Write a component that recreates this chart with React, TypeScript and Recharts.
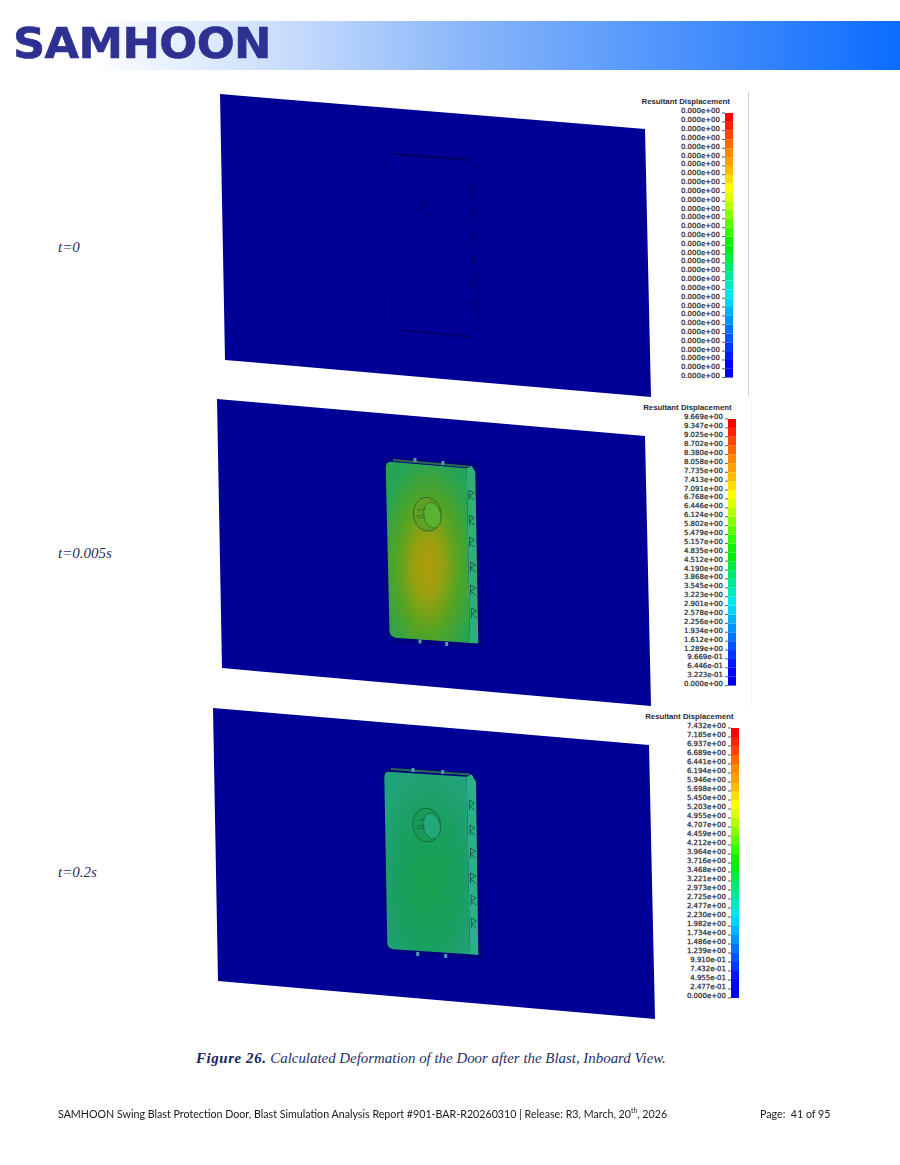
import React from 'react';
import { BarChart, Bar, XAxis, YAxis, ScatterChart, Scatter } from 'recharts';

type Pt = { x: number; y: number };

// Contour legend labels, top to bottom
const labelsStart = Array(31).fill('0.000e+00');
const labelsMid = [
  '9.669e+00', '9.347e+00', '9.025e+00', '8.702e+00', '8.380e+00', '8.058e+00', '7.735e+00', '7.413e+00',
  '7.091e+00', '6.768e+00', '6.446e+00', '6.124e+00', '5.802e+00', '5.479e+00', '5.157e+00', '4.835e+00',
  '4.512e+00', '4.190e+00', '3.868e+00', '3.545e+00', '3.223e+00', '2.901e+00', '2.578e+00', '2.256e+00',
  '1.934e+00', '1.612e+00', '1.289e+00', '9.669e-01', '6.446e-01', '3.223e-01', '0.000e+00',
];
const labelsEnd = [
  '7.432e+00', '7.185e+00', '6.937e+00', '6.689e+00', '6.441e+00', '6.194e+00', '5.946e+00', '5.698e+00',
  '5.450e+00', '5.203e+00', '4.955e+00', '4.707e+00', '4.459e+00', '4.212e+00', '3.964e+00', '3.716e+00',
  '3.468e+00', '3.221e+00', '2.973e+00', '2.725e+00', '2.477e+00', '2.230e+00', '1.982e+00', '1.734e+00',
  '1.486e+00', '1.239e+00', '9.910e-01', '7.432e-01', '4.955e-01', '2.477e-01', '0.000e+00',
];

// Band colours of the contour scale, top to bottom
const bandColors = [
  '#ff0000', '#ff2200', '#ff4400', '#ff6600', '#ff8800', '#ffa000', '#ffbb00', '#ffdd00', '#ffff00', '#ddff00',
  '#b4ff00', '#88ff00', '#5cff00', '#30ff00', '#10f000', '#00ee10', '#00ec40', '#00ea70', '#00ea98', '#00eac0',
  '#00e8e8', '#00d4ff', '#00b4ff', '#0094ff', '#0074ff', '#0054ff', '#0034ff', '#0018ff', '#0000ff', '#0000f0',
];

// Plates, in page pixels
const plateStart: Pt[] = [{ x: 220, y: 94 }, { x: 645, y: 129 }, { x: 651, y: 397 }, { x: 225, y: 360 }];
const plateMid: Pt[] = [{ x: 217, y: 399 }, { x: 645, y: 436 }, { x: 651, y: 706 }, { x: 222, y: 668 }];
const plateEnd: Pt[] = [{ x: 213, y: 708 }, { x: 649, y: 745 }, { x: 655, y: 1019 }, { x: 218, y: 981 }];

// Door outline traces at t=0
const traceTop: Pt[] = [{ x: 393, y: 154 }, { x: 470, y: 160 }];
const traceBottom: Pt[] = [{ x: 398, y: 330 }, { x: 473, y: 337 }];
const traceLeft: Pt[] = [{ x: 386, y: 160 }, { x: 392, y: 327 }];
const traceRight: Pt[] = [{ x: 473, y: 165 }, { x: 478, y: 334 }];
const traceWindowA: Pt[] = [{ x: 416, y: 204 }, { x: 428, y: 200 }];
const traceWindowB: Pt[] = [{ x: 417, y: 209 }, { x: 430, y: 206 }];
const traceWindowC: Pt[] = [{ x: 427, y: 192 }, { x: 424, y: 212 }, { x: 436, y: 219 }];
const hingesStart: Pt[] = [{ x: 473, y: 190 }, { x: 474, y: 213 }, { x: 474, y: 237 }, { x: 475, y: 260 }, { x: 475, y: 283 }, { x: 476, y: 305 }];

// Door shadows, faces and side strips
const shadowMid: Pt[] = [{ x: 384, y: 463 }, { x: 391, y: 458 }, { x: 472, y: 463 }, { x: 478, y: 470 }, { x: 481, y: 646 }, { x: 393, y: 642 }, { x: 387, y: 634 }];
const faceMid: Pt[] = [
  { x: 385.7, y: 466 }, { x: 387, y: 463 }, { x: 390, y: 461.7 }, { x: 466.7, y: 468.3 }, { x: 470, y: 643 },
  { x: 395, y: 637.7 }, { x: 391, y: 635.5 }, { x: 389.5, y: 632 },
];
const stripMid: Pt[] = [{ x: 466.7, y: 468.3 }, { x: 471.7, y: 465.7 }, { x: 475.3, y: 471.7 }, { x: 478.3, y: 643.3 }, { x: 470, y: 643 }];
const frameMid: Pt[] = [{ x: 393, y: 460 }, { x: 470, y: 466.7 }];
const nubsMid: Pt[] = [{ x: 415, y: 460 }, { x: 443, y: 463 }, { x: 420, y: 641.5 }, { x: 446.7, y: 644 }];
const hingesMid: Pt[] = [{ x: 471.5, y: 495 }, { x: 472, y: 520 }, { x: 472, y: 542 }, { x: 473, y: 567 }, { x: 473, y: 590 }, { x: 474, y: 613 }];
const windowMid: Pt[] = [{ x: 427.3, y: 514.3 }];

const shadowEnd: Pt[] = [{ x: 382, y: 774 }, { x: 389, y: 768 }, { x: 472, y: 772 }, { x: 478, y: 780 }, { x: 481, y: 958 }, { x: 392, y: 952 }, { x: 385, y: 946 }];
const faceEnd: Pt[] = [
  { x: 384.3, y: 776 }, { x: 385.5, y: 773 }, { x: 388, y: 771.7 }, { x: 466.7, y: 776.7 }, { x: 470, y: 954.3 },
  { x: 393, y: 949.3 }, { x: 389, y: 947.5 }, { x: 387.3, y: 944 },
];
const stripEnd: Pt[] = [{ x: 466.7, y: 776.7 }, { x: 471.7, y: 774.3 }, { x: 476, y: 781.7 }, { x: 478.3, y: 955 }, { x: 470, y: 954.3 }];
const frameEnd: Pt[] = [{ x: 391, y: 769 }, { x: 470, y: 774.5 }];
const nubsEnd: Pt[] = [{ x: 413, y: 770 }, { x: 442.7, y: 772 }, { x: 417.7, y: 954 }, { x: 445.7, y: 956 }];
const hingesEnd: Pt[] = [{ x: 472, y: 805 }, { x: 472.5, y: 830 }, { x: 473, y: 853 }, { x: 473, y: 878 }, { x: 473.5, y: 900 }, { x: 474, y: 923 }];
const windowEnd: Pt[] = [{ x: 426.7, y: 825 }];

const bandKeys = bandColors.map((_, i) => `b${i}`);
const legendRow = [Object.fromEntries([['name', 'scale'], ...bandKeys.map((k) => [k, 1])])];

const PLATE = '#000096';
const serif = '"Liberation Serif", serif';
const navy = '#1f3064';

const Nothing = () => <g />;

const HingeMark = ({ cx, cy, color, opacity }: any) => (
  <path
    d={`M${cx - 2.5},${cy - 5} L${cx + 2.5},${cy - 2} L${cx - 2.5},${cy + 1} L${cx + 2.5},${cy + 5} M${cx - 2.5},${cy - 5} L${cx - 2.5},${cy + 5}`}
    fill="none"
    stroke={color}
    strokeWidth={1}
    opacity={opacity}
  />
);

const NubMark = ({ cx, cy, color }: any) => <rect x={cx - 1.5} y={cy - 2} width={3} height={4} fill={color} />;

const WindowMark = ({ cx, cy, ring, lit, line }: any) => (
  <g>
    <ellipse cx={cx} cy={cy} rx={14} ry={17} fill={ring} stroke={line} strokeWidth={0.8} transform={`rotate(-8 ${cx} ${cy})`} />
    <ellipse cx={cx + 5} cy={cy + 1} rx={8.5} ry={13} fill={lit} stroke={line} strokeWidth={0.6} transform={`rotate(-12 ${cx + 5} ${cy + 1})`} />
    <path d={`M${cx - 10},${cy - 4} L${cx - 1},${cy - 6} M${cx - 11},${cy + 2} L${cx - 2},${cy} M${cx - 10},${cy + 4} L${cx - 2},${cy + 3}`} stroke={line} strokeWidth={0.7} fill="none" />
  </g>
);

const ScaleLegend = ({ labels, barLeft, barTop, barHeight, titleLeft, titleTop }: any) => {
  const axisWidth = 90;
  const barWidth = 7.5;
  const pad = 8;
  return (
    <>
      <div
        style={{
          position: 'absolute', left: titleLeft, top: titleTop, fontFamily: '"Liberation Sans", sans-serif', fontWeight: 700,
          fontSize: 7.8, lineHeight: '10px', color: '#2a2a33', whiteSpace: 'nowrap',
        }}
      >
        Resultant Displacement
      </div>
      <div style={{ position: 'absolute', left: barLeft - axisWidth, top: barTop - pad }}>
        <BarChart
          width={axisWidth + barWidth}
          height={barHeight + pad * 2}
          data={legendRow}
          margin={{ top: pad, right: 0, bottom: pad, left: 0 }}
          barCategoryGap={0}
        >
          <XAxis dataKey="name" hide />
          <YAxis
            type="number"
            domain={[0, 30]}
            ticks={labels.map((_: string, i: number) => i)}
            interval={0}
            width={axisWidth}
            tickSize={3}
            tickMargin={2}
            axisLine={false}
            tickLine={{ stroke: '#333', strokeWidth: 0.8 }}
            tick={{ fontFamily: '"DejaVu Sans", sans-serif', fontSize: 7, fill: '#2c2c34', stroke: '#2c2c34', strokeWidth: 0.25, dy: -2 }}
            tickFormatter={(v: number) => labels[30 - v]}
          />
          {bandKeys.map((k, i) => (
            <Bar key={k} dataKey={k} stackId="scale" fill={bandColors[29 - i]} isAnimationActive={false} />
          ))}
        </BarChart>
      </div>
    </>
  );
};

const poly = (key: string, data: Pt[], fill: string, stroke = 'none', strokeWidth = 0, opacity = 1) => (
  <Scatter
    key={key}
    data={data}
    shape={Nothing}
    line={{ fill, stroke, strokeWidth, opacity }}
    isAnimationActive={false}
  />
);

const trace = (key: string, data: Pt[], stroke: string, strokeWidth: number, opacity = 1) => (
  <Scatter key={key} data={data} shape={Nothing} line={{ fill: 'none', stroke, strokeWidth, opacity }} isAnimationActive={false} />
);

const marks = (key: string, data: Pt[], shape: any) => (
  <Scatter key={key} data={data} shape={shape} isAnimationActive={false} />
);

const textAt = (left: number, top: number, style: React.CSSProperties, children: React.ReactNode) => (
  <div style={{ position: 'absolute', left, top, whiteSpace: 'nowrap', ...style }}>{children}</div>
);

const timeStyle: React.CSSProperties = { fontFamily: serif, fontStyle: 'italic', fontSize: 15, lineHeight: '18px', color: navy };
const footerStyle: React.CSSProperties = {
  fontFamily: 'Lato, sans-serif', fontSize: 11, lineHeight: '16px', color: '#1a1a1a', transform: 'scaleX(0.97)', transformOrigin: 'left top',
};

export default function App() {
  return (
    <div style={{ position: 'absolute', left: 0, top: 0, width: 900, height: 1165, background: '#fff', overflow: 'hidden' }}>
      {/* Header band and logo */}
      <div
        style={{
          position: 'absolute', left: 0, top: 21, width: 900, height: 49,
          background: 'linear-gradient(90deg, #ffffff 0px, #ffffff 90px, #c4dafc 300px, #8fb9f9 450px, #0b6cfe 900px)',
        }}
      />
      {textAt(13, 19, {
        fontFamily: '"DejaVu Sans", sans-serif', fontWeight: 700, fontSize: 43, lineHeight: '49px', color: '#2e3192',
        transform: 'scaleX(1.04)', transformOrigin: 'left top', letterSpacing: -0.6, WebkitTextStroke: '0.6px #2e3192',
      }, 'SAMHOON')}

      {/* Plates and doors */}
      <div style={{ position: 'absolute', left: 0, top: 0, filter: 'blur(0.6px)' }}>
        <ScatterChart width={900} height={1165} margin={{ top: 0, right: 0, bottom: 0, left: 0 }}>
          <defs>
            <radialGradient id="hotFace" cx="50%" cy="58%" r="60%">
              <stop offset="0%" stopColor="#b09c0a" />
              <stop offset="28%" stopColor="#98a010" />
              <stop offset="60%" stopColor="#54a422" />
              <stop offset="100%" stopColor="#26a455" />
            </radialGradient>
            <radialGradient id="coolFace" cx="52%" cy="60%" r="65%">
              <stop offset="0%" stopColor="#16a24e" />
              <stop offset="60%" stopColor="#1a9f62" />
              <stop offset="100%" stopColor="#22a27a" />
            </radialGradient>
          </defs>
          <XAxis type="number" dataKey="x" domain={[0, 900]} hide />
          <YAxis type="number" dataKey="y" domain={[0, 1165]} reversed hide width={0} />

          {poly('plate-start', plateStart, PLATE)}
          {poly('plate-mid', plateMid, PLATE)}
          {poly('plate-end', plateEnd, PLATE)}

          {trace('trace-top', traceTop, '#000058', 2.5, 0.75)}
          {trace('trace-bottom', traceBottom, '#000058', 2, 0.75)}
          {trace('trace-left', traceLeft, '#000070', 1.6, 0.55)}
          {trace('trace-right', traceRight, '#000070', 1.6, 0.4)}
          {trace('trace-wa', traceWindowA, '#000070', 1.2, 0.8)}
          {trace('trace-wb', traceWindowB, '#000070', 1.2, 0.8)}
          {trace('trace-wc', traceWindowC, '#000070', 1.2, 0.7)}
          {marks('hinge-start', hingesStart, (p: any) => <HingeMark {...p} color="#000060" opacity={0.7} />)}

          {poly('shadow-mid', shadowMid, '#00007c', '#00007c', 2, 0.8)}
          {poly('face-mid', faceMid, 'url(#hotFace)')}
          {poly('strip-mid', stripMid, '#30ae78')}
          {trace('frame-mid', frameMid, '#2a6a4c', 2)}
          {marks('nub-mid', nubsMid, (p: any) => <NubMark {...p} color="#5a9aa0" />)}
          {marks('hinge-mid', hingesMid, (p: any) => <HingeMark {...p} color="#17553f" opacity={0.85} />)}
          {marks('window-mid', windowMid, (p: any) => <WindowMark {...p} ring="#5fa124" lit="#58b332" line="#2b6424" />)}

          {poly('shadow-end', shadowEnd, '#00007c', '#00007c', 2, 0.8)}
          {poly('face-end', faceEnd, 'url(#coolFace)')}
          {poly('strip-end', stripEnd, '#2bb085')}
          {trace('frame-end', frameEnd, '#2a6a50', 2)}
          {marks('nub-end', nubsEnd, (p: any) => <NubMark {...p} color="#4a9ab0" />)}
          {marks('hinge-end', hingesEnd, (p: any) => <HingeMark {...p} color="#14553f" opacity={0.85} />)}
          {marks('window-end', windowEnd, (p: any) => <WindowMark {...p} ring="#1a9a58" lit="#22a878" line="#17603f" />)}
        </ScatterChart>
      </div>

      {/* Rules beside the legends */}
      <div style={{ position: 'absolute', left: 748, top: 92, width: 1, height: 305, background: '#d0d0d4' }} />
      <div style={{ position: 'absolute', left: 751, top: 400, width: 1, height: 306, background: '#f1f1f3' }} />

      <ScaleLegend labels={labelsStart} barLeft={725.3} barTop={112.7} barHeight={264.6} titleLeft={641.5} titleTop={97} />
      <ScaleLegend labels={labelsMid} barLeft={728} barTop={418.7} barHeight={266.6} titleLeft={643.2} titleTop={402.5} />
      <ScaleLegend labels={labelsEnd} barLeft={731} barTop={728} barHeight={270} titleLeft={645.2} titleTop={711.5} />

      {/* Time labels */}
      {textAt(58, 238, timeStyle, 't=0')}
      {textAt(58, 544, timeStyle, 't=0.005s')}
      {textAt(58, 863, timeStyle, 't=0.2s')}

      {/* Caption and footer */}
      {textAt(196, 1049, { fontFamily: serif, fontStyle: 'italic', fontSize: 14.9, lineHeight: '18px', color: navy }, (
        <>
          <b style={{ letterSpacing: 0.6, color: '#16245a' }}>Figure 26.</b> Calculated Deformation of the Door after the Blast, Inboard View.
        </>
      ))}
      {textAt(58, 1106, footerStyle, (
        <>
          SAMHOON Swing Blast Protection Door, Blast Simulation Analysis Report #901-BAR-R20260310 | Release: R3, March, 20
          <sup style={{ fontSize: 7, lineHeight: 0 }}>th</sup>, 2026
        </>
      ))}
      {textAt(760, 1106, { ...footerStyle, whiteSpace: 'pre' }, 'Page:  41 of 95')}
    </div>
  );
}
